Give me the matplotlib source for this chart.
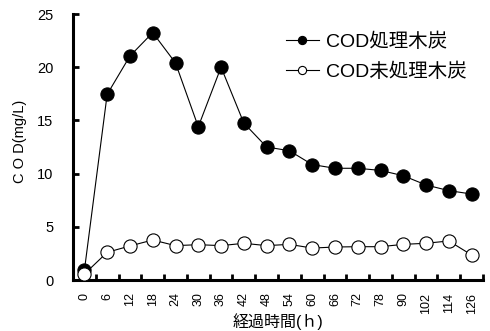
import matplotlib
matplotlib.use("Agg")
import matplotlib.pyplot as plt
import numpy as np
from matplotlib.ticker import FixedLocator, NullFormatter

plt.rcParams['font.family'] = ['Liberation Sans', 'Noto Sans CJK JP', 'DejaVu Sans']

# Elapsed time categories (h)
hours = ["0", "6", "12", "18", "24", "30", "36", "42", "48", "54", "60",
         "66", "72", "78", "90", "102", "114", "126"]
# COD (mg/L)
cod_treated = [0.9, 17.45, 21.05, 23.25, 20.4, 14.4, 20.0, 14.75, 12.5, 12.15,
               10.85, 10.5, 10.5, 10.3, 9.8, 8.93, 8.4, 8.08]
cod_untreated = [0.56, 2.6, 3.2, 3.76, 3.23, 3.32, 3.23, 3.45, 3.23, 3.35,
                 3.0, 3.1, 3.13, 3.13, 3.35, 3.45, 3.67, 2.35]
series_labels = ["COD処理木炭", "COD未処理木炭"]
y_ticks = [0, 5, 10, 15, 20, 25]

fig = plt.figure(figsize=(4.9, 3.31), dpi=100)
ax = fig.add_axes([73 / 490, 1 - 280 / 331, 410 / 490, 266 / 331])

x = np.arange(len(hours))
ax.plot(x, cod_treated, color='black', lw=0.8, marker='o', ms=9.5,
        mfc='black', mec='black', mew=0.8, label=series_labels[0], zorder=3)
ax.plot(x, cod_untreated, color='black', lw=0.8, marker='o', ms=9.5,
        mfc='white', mec='black', mew=0.8, label=series_labels[1], zorder=4)

ax.set_xlim(-0.5, len(hours) - 0.5)
ax.set_ylim(0, 25)

for side in ('top', 'right'):
    ax.spines[side].set_visible(False)
for side in ('left', 'bottom'):
    ax.spines[side].set_linewidth(2.2)

ax.set_yticks(y_ticks)
ax.tick_params(axis='y', direction='in', length=4.5, width=2, labelsize=10.5, pad=14)

ax.set_xticks(x)
ax.set_xticklabels(hours, rotation=90, fontsize=9)
ax.tick_params(axis='x', which='major', length=0, pad=9)
ax.xaxis.set_minor_locator(FixedLocator(np.arange(-0.5, len(hours), 1.0)))
ax.xaxis.set_minor_formatter(NullFormatter())
ax.tick_params(axis='x', which='minor', direction='in', length=4, width=2)

ax.set_ylabel("C O D(mg/L)", fontsize=10.5)
ax.yaxis.set_label_coords(-0.113, 0.52)
ax.set_xlabel("経過時間(ｈ)", fontsize=11.5)
ax.xaxis.set_label_coords(0.5, -0.126)

leg = ax.legend(loc='upper left', bbox_to_anchor=(0.5, 0.96), frameon=False,
                fontsize=14, markerscale=0.62, handlelength=1.7,
                handletextpad=0.35, labelspacing=0.6, borderaxespad=0)

fig.savefig("out.png", dpi=100)
